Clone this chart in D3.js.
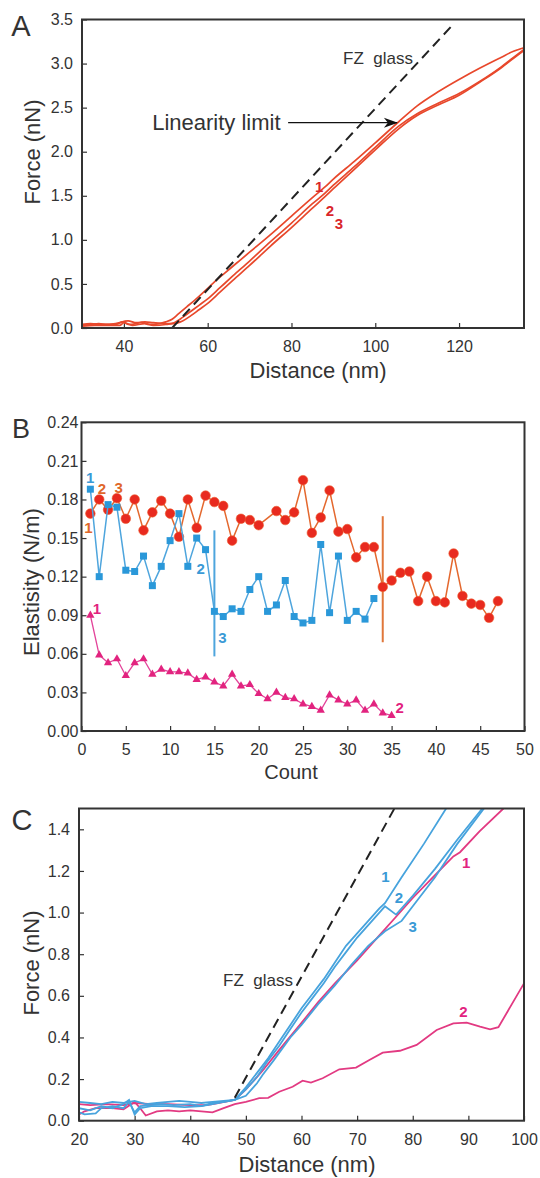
<!DOCTYPE html>
<html>
<head>
<meta charset="utf-8">
<script src="https://cdn.jsdelivr.net/npm/d3@7/dist/d3.min.js"></script>
<style>
  body { margin: 0; background: #fff; }
  svg { display: block; font-family: "Liberation Sans", Arial, sans-serif; }
</style>
</head>
<body>
<div id="chart"></div>
<script>
// ---------- panel A : force curves on the first sample (nm, nN) ----------
const aXTicks = [40, 60, 80, 100, 120];
const aYTicks = [0, 0.5, 1, 1.5, 2, 2.5, 3, 3.5];
const aGlass = [[51.5, 0], [118.5, 3.44]];
const aCurve1 = [[30,0.03],[32,0.04],[34,0.05],[36,0.04],[38,0.04],[39.7,0.07],[41,0.04],[43,0.05],[44.3,0.065],[46,0.04],[48.5,0.05],[50,0.07],[51.5,0.1],[53,0.16],[55,0.24],[57,0.32],[60,0.45],[62,0.54],[64,0.62],[67,0.74],[70,0.86],[75,1.06],[80,1.27],[85,1.48],[88,1.6],[90,1.69],[95,1.89],[100,2.1],[105.6,2.34],[110,2.52],[115,2.68],[120,2.82],[125,2.95],[130,3.07],[133,3.14],[135.5,3.18]];
const aCurve2 = [[30,0.02],[33,0.03],[36,0.03],[39,0.03],[40,0.06],[42,0.03],[45,0.05],[47,0.03],[50,0.04],[52,0.06],[54,0.12],[56,0.19],[58,0.26],[60,0.33],[63,0.46],[66,0.59],[70,0.76],[75,0.98],[80,1.19],[85,1.41],[88,1.53],[90,1.62],[95,1.83],[100,2.05],[105.6,2.29],[110,2.43],[115,2.55],[120,2.66],[125,2.8],[130,2.96],[133,3.07],[135.5,3.16]];
const aCurve3 = [[30,0.04],[32,0.05],[35,0.04],[38,0.05],[41,0.08],[43,0.06],[45,0.07],[47,0.06],[50,0.05],[52,0.05],[54,0.08],[56,0.14],[58,0.21],[60,0.28],[63,0.41],[66,0.54],[70,0.71],[75,0.93],[80,1.14],[85,1.36],[88,1.49],[90,1.58],[95,1.8],[100,2.02],[105.6,2.26],[110,2.41],[115,2.53],[120,2.64],[125,2.79],[130,2.95],[133,3.06],[135.5,3.15]];

// ---------- panel B : elasticity per count (N/m) ----------
const bXTicks = [0, 5, 10, 15, 20, 25, 30, 35, 40, 45, 50];
const bYTicks = [0, 0.03, 0.06, 0.09, 0.12, 0.15, 0.18, 0.21, 0.24];
const redCounts = [1,2,3,4,5,6,7,8,9,10,11,12,13,14,15,16,17,18,19,20,22,23,24,25,26,27,28,29,30,31,32,33,34,35,36,37,38,39,40,41,42,43,44,45,46,47];
const redValues = [0.169,0.180,0.172,0.181,0.165,0.180,0.156,0.170,0.179,0.169,0.151,0.180,0.158,0.183,0.178,0.175,0.148,0.165,0.164,0.160,
  0.171,0.164,0.170,0.195,0.154,0.166,0.187,0.155,0.157,0.135,0.143,0.143,
  0.112,0.117,0.123,0.124,0.101,0.120,0.101,0.100,0.138,0.105,0.099,0.098,0.088,0.101];
const blueValues = [0.188,0.120,0.176,0.174,0.125,0.124,0.136,0.113,0.128,0.148,0.169,0.128,0.150,0.141,0.093,0.089,0.095,0.093,0.110,0.120,
  0.093,0.098,0.117,0.089,0.084,0.086,0.145,0.092,0.136,0.086,0.093,0.087,0.103];
const pinkValues = [0.090,0.059,0.053,0.056,0.043,0.053,0.056,0.044,0.048,0.046,0.046,0.045,0.040,0.042,0.038,0.035,0.044,0.035,0.036,0.029,
  0.025,0.030,0.026,0.025,0.021,0.019,0.016,0.028,0.024,0.021,0.024,0.016,0.021,0.014,0.012];
const blueBreak = [15, 0.058, 0.156];
const redBreak = [34, 0.069, 0.167];

// ---------- panel C : force curves on the second sample (nm, nN) ----------
const cXTicks = [20, 30, 40, 50, 60, 70, 80, 90, 100];
const cYTicks = [0, 0.2, 0.4, 0.6, 0.8, 1.0, 1.2, 1.4];
const cGlass = [[48, 0.11], [76.7, 1.5]];
const cBlue1 = [[20,0.09],[22,0.085],[24,0.08],[26,0.09],[28,0.085],[30,0.095],[32,0.08],[34,0.085],[36,0.09],[38,0.095],[40,0.09],[42,0.085],[44,0.09],[46,0.095],[48,0.1],[50,0.16],[52,0.23],[54,0.3],[56,0.38],[58,0.46],[60,0.54],[62,0.61],[64,0.68],[66,0.76],[68,0.84],[70,0.9],[72,0.96],[74,1.02],[75,1.045],[78,1.17],[82,1.33],[86,1.5]];
const cBlue2 = [[20,0.04],[21,0.03],[23,0.035],[24,0.06],[26,0.07],[28,0.06],[29,0.09],[30,0.04],[31,0.07],[33,0.075],[35,0.08],[37,0.075],[40,0.08],[42,0.07],[44,0.08],[46,0.09],[48,0.1],[50,0.15],[52,0.21],[54,0.29],[56,0.36],[58,0.44],[60,0.52],[62,0.59],[64,0.66],[66,0.74],[68,0.81],[70,0.88],[72,0.94],[74,1.0],[75,1.03],[77,0.99],[80,1.08],[84,1.21],[88,1.35],[92.5,1.5]];
const cBlue3 = [[20,0.06],[22,0.05],[24,0.07],[26,0.06],[28,0.08],[29,0.1],[30,0.03],[31,0.06],[33,0.07],[36,0.07],[39,0.065],[42,0.07],[44,0.085],[46,0.09],[48,0.1],[50,0.12],[52,0.18],[53,0.22],[55,0.29],[58,0.4],[60,0.46],[63,0.56],[66,0.65],[69,0.75],[72,0.84],[75,0.91],[78,0.96],[80,1.03],[84,1.17],[88,1.33],[92.8,1.5]];
const cPink1 = [[20,0.08],[22,0.075],[25,0.08],[28,0.075],[30,0.085],[33,0.08],[36,0.08],[40,0.075],[43,0.075],[45,0.085],[48,0.1],[50,0.15],[53,0.24],[56,0.34],[60,0.47],[63,0.57],[66,0.66],[70,0.77],[74,0.89],[77,0.98],[80,1.07],[84,1.18],[87.3,1.27],[88.5,1.29],[92,1.39],[96.3,1.5]];
const cPink2 = [[20,0.03],[21,0.045],[23,0.06],[26,0.06],[28,0.055],[30,0.09],[31,0.06],[32,0.025],[34,0.045],[36,0.05],[38,0.045],[40,0.05],[42,0.045],[44,0.04],[46,0.06],[48,0.08],[50,0.09],[52.4,0.108],[54,0.11],[56,0.139],[58.4,0.163],[60.2,0.192],[61.7,0.183],[63.8,0.204],[66.8,0.247],[69.8,0.255],[72.2,0.292],[74.6,0.327],[77.7,0.336],[80.7,0.364],[84.3,0.436],[87.3,0.468],[89.7,0.471],[92.1,0.452],[93.9,0.439],[95.4,0.449],[100,0.66]];

const W = 540, H = 1178;
const ink = "#333";
const svg = d3.select("#chart").append("svg")
  .attr("width", W).attr("height", H);

// draws one boxed panel with inward ticks, returns its scales
function panel(id, box, xDom, yDom, xTicks, yTicks, xFmt, yFmt, yPad) {
  const x = d3.scaleLinear().domain(xDom).range([box.left, box.right]);
  const y = d3.scaleLinear().domain(yDom).range([box.bottom, box.top]);

  svg.append("clipPath").attr("id", id)
    .append("rect")
      .attr("x", box.left).attr("y", box.top)
      .attr("width", box.right - box.left).attr("height", box.bottom - box.top);

  const xa = svg.append("g")
    .attr("transform", `translate(0,${box.bottom})`)
    .call(d3.axisBottom(x).tickValues(xTicks).tickFormat(xFmt)
      .tickSizeInner(-5).tickSizeOuter(0).tickPadding(13));
  const ya = svg.append("g")
    .attr("transform", `translate(${box.left},0)`)
    .call(d3.axisLeft(y).tickValues(yTicks).tickFormat(yFmt)
      .tickSizeInner(-5).tickSizeOuter(0).tickPadding(yPad));
  [xa, ya].forEach(a => {
    a.attr("font-family", null).attr("font-size", 16);
    a.select(".domain").remove();
    a.selectAll("line").attr("stroke", ink).attr("stroke-width", 1.2);
    a.selectAll("text").attr("fill", ink);
  });

  const plot = svg.append("g").attr("clip-path", `url(#${id})`);
  return { x, y, plot };
}

function frame(box) {
  svg.append("rect")
    .attr("x", box.left).attr("y", box.top)
    .attr("width", box.right - box.left).attr("height", box.bottom - box.top)
    .attr("fill", "none").attr("stroke", ink).attr("stroke-width", 2);
}

function label(txt, px, py, color, size) {
  svg.append("text")
    .attr("x", px).attr("y", py)
    .attr("text-anchor", "middle").attr("dominant-baseline", "central")
    .attr("fill", color)
    .style("font-family", "'Liberation Sans Narrow', 'Liberation Sans', Arial, sans-serif")
    .style("font-weight", "bold")
    .style("font-size", size + "px")
    .text(txt);
}

function title(txt, px, py, size, rotate) {
  const t = svg.append("text")
    .attr("text-anchor", "middle")
    .attr("fill", ink)
    .style("font-size", size + "px")
    .text(txt);
  if (rotate) t.attr("transform", `translate(${px},${py}) rotate(-90)`);
  else t.attr("x", px).attr("y", py);
  return t;
}

// ================= A =================
const boxA = { left: 82, right: 524, top: 19.5, bottom: 328 };
const A = panel("clipA", boxA, [30, 135.5], [0, 3.5], aXTicks, aYTicks, d3.format(""), d3.format(".1f"), 9);
const lineA = d3.line().x(d => A.x(d[0])).y(d => A.y(d[1])).curve(d3.curveMonotoneX);

A.plot.selectAll("path.red")
  .data([aCurve3, aCurve2, aCurve1])
  .join("path")
    .attr("class", "red")
    .attr("d", lineA)
    .attr("fill", "none")
    .attr("stroke", "#e8482c")
    .attr("stroke-width", 1.7);

A.plot.append("path")
  .attr("d", lineA(aGlass))
  .attr("fill", "none").attr("stroke", "#222")
  .attr("stroke-width", 2).attr("stroke-dasharray", "10,6");

frame(boxA);

svg.append("text")
  .attr("x", A.x(92.3)).attr("y", A.y(3.0))
  .attr("fill", ink).style("font-size", "17px")
  .style("white-space", "pre")
  .text("FZ  glass");

svg.append("text")
  .attr("x", A.x(77.4)).attr("y", A.y(2.33))
  .attr("text-anchor", "end").attr("dominant-baseline", "central")
  .attr("fill", ink).style("font-size", "22px")
  .text("Linearity limit");

// arrow
svg.append("line")
  .attr("x1", A.x(79.2)).attr("y1", A.y(2.33))
  .attr("x2", A.x(105.2)).attr("y2", A.y(2.33))
  .attr("stroke", "#111").attr("stroke-width", 1.4);
svg.append("path")
  .attr("d", `M${A.x(105.4)},${A.y(2.33)} l-14,-5 l4,5 l-4,5 z`)
  .attr("fill", "#111");

label("1", A.x(86.6), A.y(1.6), "#d9262a", 15);
label("2", A.x(89.2), A.y(1.33), "#d9262a", 15);
label("3", A.x(91.3), A.y(1.19), "#d9262a", 15);

title("A", 21, 36, 29, false);
title("Distance (nm)", 318, 378, 22, false);
title("Force (nN)", 40, 152, 22, true);

// ================= B =================
const boxB = { left: 81.5, right: 524.5, top: 422.3, bottom: 731 };
const B = panel("clipB", boxB, [0, 50], [0, 0.24], bXTicks, bYTicks, d3.format(""), d3.format(".2f"), 3);

const redData = redCounts.map((c, i) => [c, redValues[i]]);
const blueData = blueValues.map((v, i) => [i + 1, v]);
const pinkData = pinkValues.map((v, i) => [i + 1, v]);
const lineB = d3.line().x(d => B.x(d[0])).y(d => B.y(d[1]));

// red series
svg.append("path").attr("d", lineB(redData))
  .attr("fill", "none").attr("stroke", "#e4682e").attr("stroke-width", 1.5);
svg.append("line")
  .attr("x1", B.x(redBreak[0])).attr("x2", B.x(redBreak[0]))
  .attr("y1", B.y(redBreak[1])).attr("y2", B.y(redBreak[2]))
  .attr("stroke", "#e0773a").attr("stroke-width", 2);
svg.append("g").selectAll("circle")
  .data(redData)
  .join("circle")
    .attr("cx", d => B.x(d[0]))
    .attr("cy", d => B.y(d[1]))
    .attr("r", 4.8)
    .attr("fill", "#e82a1f")
    .attr("stroke", "#ee5a2e").attr("stroke-width", 0.6);

// blue series
svg.append("path").attr("d", lineB(blueData))
  .attr("fill", "none").attr("stroke", "#4ea5dd").attr("stroke-width", 1.5);
svg.append("line")
  .attr("x1", B.x(blueBreak[0])).attr("x2", B.x(blueBreak[0]))
  .attr("y1", B.y(blueBreak[1])).attr("y2", B.y(blueBreak[2]))
  .attr("stroke", "#4ea5dd").attr("stroke-width", 2);
svg.append("g").selectAll("rect")
  .data(blueData)
  .join("rect")
    .attr("x", d => B.x(d[0]) - 3.5)
    .attr("y", d => B.y(d[1]) - 3.5)
    .attr("width", 7).attr("height", 7)
    .attr("fill", "#2a98d9");

// magenta series
svg.append("path").attr("d", lineB(pinkData))
  .attr("fill", "none").attr("stroke", "#e3449a").attr("stroke-width", 1.3);
svg.append("g").selectAll("path.tri")
  .data(pinkData)
  .join("path")
    .attr("class", "tri")
    .attr("transform", d => `translate(${B.x(d[0])},${B.y(d[1])})`)
    .attr("d", d3.symbol(d3.symbolTriangle, 30))
    .attr("fill", "#e2237f");

frame(boxB);

label("1", B.x(0.98), 477, "#3a9ad6", 15);
label("1", B.x(0.78), 527, "#e0672a", 15);
label("2", B.x(2.3), 488, "#e0672a", 15);
label("3", B.x(4.2), 487, "#e0672a", 15);
label("2", B.x(13.45), 568, "#3a9ad6", 15);
label("3", B.x(15.9), 637, "#3a9ad6", 15);
label("1", B.x(1.75), 608, "#e2237f", 15);
label("2", B.x(35.9), 707, "#e2237f", 15);

title("B", 21, 438, 27, false);
title("Count", 291, 779, 20, false);
title("Elastisity (N/m)", 39, 582, 22, true);

// ================= C =================
const boxC = { left: 79, right: 524, top: 808.5, bottom: 1120.7 };
const C = panel("clipC", boxC, [20, 100], [0, 1.5], cXTicks, cYTicks, d3.format(""), d3.format(".1f"), 9);
const lineC = d3.line().x(d => C.x(d[0])).y(d => C.y(d[1]));

C.plot.selectAll("path.pink")
  .data([cPink2, cPink1])
  .join("path")
    .attr("class", "pink")
    .attr("d", lineC)
    .attr("fill", "none")
    .attr("stroke", "#e23a82")
    .attr("stroke-width", 1.8);

C.plot.selectAll("path.blue")
  .data([cBlue3, cBlue2, cBlue1])
  .join("path")
    .attr("class", "blue")
    .attr("d", lineC)
    .attr("fill", "none")
    .attr("stroke", "#47a3dd")
    .attr("stroke-width", 1.8);

C.plot.append("path")
  .attr("d", lineC(cGlass))
  .attr("fill", "none").attr("stroke", "#222")
  .attr("stroke-width", 2).attr("stroke-dasharray", "10,6");

frame(boxC);

svg.append("text")
  .attr("x", C.x(45.9)).attr("y", C.y(0.648))
  .attr("fill", ink).style("font-size", "17px")
  .style("white-space", "pre")
  .text("FZ  glass");

label("1", C.x(75.1), C.y(1.175), "#3a9ad6", 15);
label("2", C.x(77.5), C.y(1.07), "#3a9ad6", 15);
label("3", C.x(80), C.y(0.935), "#3a9ad6", 15);
label("1", C.x(89.6), C.y(1.24), "#e2237f", 15);
label("2", C.x(89.1), C.y(0.525), "#e2237f", 15);

title("C", 22, 830, 29, false);
title("Distance (nm)", 307, 1172, 22, false);
title("Force (nN)", 39, 963, 22, true);
</script>
</body>
</html>
